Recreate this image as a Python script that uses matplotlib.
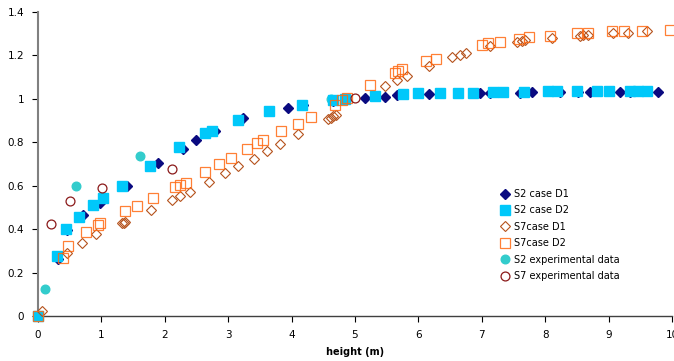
import numpy as np
import matplotlib
matplotlib.use("Agg")
import matplotlib.pyplot as plt
from matplotlib.ticker import FuncFormatter, MultipleLocator

# S2 case D1 (filled navy diamonds)
s2_d1_x = [0, 0.32, 0.45, 0.71, 0.98, 1.40, 1.90, 2.29, 2.50, 2.79, 3.24, 3.95, 4.18,
           4.65, 5.16, 5.47, 5.66, 6.16, 6.97, 7.13, 7.60, 7.79, 8.23, 8.52, 8.71,
           9.18, 9.34, 9.78]
s2_d1_y = [0, 0.26, 0.397, 0.463, 0.52, 0.60, 0.704, 0.77, 0.812, 0.85, 0.912, 0.958,
           0.969, 0.987, 1.004, 1.007, 1.016, 1.022, 1.025, 1.027, 1.028, 1.03, 1.03,
           1.03, 1.03, 1.03, 1.03, 1.03]

# S2 case D2 (filled cyan squares)
s2_d2_x = [0, 0.30, 0.44, 0.65, 0.87, 1.03, 1.32, 1.76, 2.22, 2.63, 2.74, 3.15, 3.64,
           4.16, 4.66, 4.84, 5.32, 5.76, 6.0, 6.34, 6.63, 6.86, 7.18, 7.34, 7.66,
           8.05, 8.18, 8.50, 8.81, 9.01, 9.34, 9.47, 9.60]
s2_d2_y = [0, 0.277, 0.40, 0.455, 0.512, 0.543, 0.60, 0.689, 0.778, 0.843, 0.853, 0.90,
           0.942, 0.969, 0.996, 1.0, 1.012, 1.02, 1.024, 1.027, 1.027, 1.028, 1.03,
           1.03, 1.032, 1.035, 1.035, 1.035, 1.035, 1.035, 1.035, 1.035, 1.035]

# S7 case D1 (open brown diamonds)
s7_d1_x = [0.06, 0.45, 0.69, 0.91, 1.32, 1.35, 1.37, 1.79, 2.12, 2.24, 2.39, 2.69,
           2.95, 3.16, 3.40, 3.61, 3.82, 4.10, 4.58, 4.62, 4.66, 4.70, 5.47, 5.66,
           5.82, 6.16, 6.53, 6.66, 6.75, 7.13, 7.55, 7.63, 7.68, 8.10, 8.55, 8.60,
           8.68, 9.07, 9.31, 9.60]
s7_d1_y = [0.025, 0.289, 0.335, 0.377, 0.428, 0.43, 0.433, 0.489, 0.535, 0.55, 0.57,
           0.617, 0.658, 0.689, 0.723, 0.758, 0.793, 0.838, 0.905, 0.912, 0.918, 0.925,
           1.058, 1.084, 1.104, 1.15, 1.19, 1.20, 1.21, 1.24, 1.26, 1.265, 1.27, 1.278,
           1.29, 1.293, 1.295, 1.30, 1.304, 1.309]

# S7 case D2 (open orange squares)
s7_d2_x = [0, 0.39, 0.47, 0.75, 0.94, 0.98, 1.37, 1.56, 1.81, 2.16, 2.24, 2.33, 2.64,
           2.85, 3.04, 3.30, 3.45, 3.55, 3.84, 4.10, 4.30, 4.68, 4.79, 4.87, 5.24,
           5.63, 5.68, 5.74, 6.12, 6.28, 7.00, 7.09, 7.28, 7.58, 7.75, 8.08, 8.50,
           8.68, 9.05, 9.24, 9.52, 9.97]
s7_d2_y = [0, 0.266, 0.323, 0.386, 0.42, 0.427, 0.481, 0.507, 0.543, 0.594, 0.604,
           0.612, 0.663, 0.70, 0.727, 0.77, 0.797, 0.812, 0.85, 0.884, 0.916, 0.973,
           0.996, 1.004, 1.062, 1.12, 1.127, 1.135, 1.173, 1.184, 1.245, 1.255, 1.262,
           1.276, 1.284, 1.29, 1.30, 1.30, 1.31, 1.31, 1.31, 1.316]

# experimental data
s2_exp_x = [0, 0.11, 0.60, 1.61, 4.62]
s2_exp_y = [0, 0.125, 0.60, 0.735, 1.0]
s7_exp_x = [0.205, 0.51, 1.01, 2.11, 5.0]
s7_exp_y = [0.424, 0.527, 0.589, 0.678, 1.004]

x_ticks = list(range(0, 11))
y_ticks = [0, 0.2, 0.4, 0.6, 0.8, 1.0, 1.2, 1.4]


fig = plt.figure(figsize=(6.74, 3.61), dpi=100)
ax = fig.add_axes([38 / 674, 45 / 361, 634 / 674, 304.3 / 361])

ax.plot(s2_d1_x, s2_d1_y, linestyle="none", marker="D", ms=5.2,
        color="#0a0a80", mec="#0a0a80", label="S2 case D1", clip_on=False, zorder=3)
ax.plot(s2_d2_x, s2_d2_y, linestyle="none", marker="s", ms=7.6,
        color="#00c8fa", mec="#00c8fa", label="S2 case D2", clip_on=False, zorder=4)
ax.plot(s7_d1_x, s7_d1_y, linestyle="none", marker="D", ms=5.0, mfc="none",
        mec="#b5521c", mew=0.8, label="S7case D1", clip_on=False, zorder=5)
ax.plot(s7_d2_x, s7_d2_y, linestyle="none", marker="s", ms=7.6, mfc="none",
        mec="#ff6a13", mew=0.9, alpha=0.85, label="S7case D2", clip_on=False, zorder=6)
ax.plot(s2_exp_x, s2_exp_y, linestyle="none", marker="o", ms=6.2,
        color="#33cccc", mec="#33cccc", label="S2 experimental data", clip_on=False, zorder=2)
ax.plot(s7_exp_x, s7_exp_y, linestyle="none", marker="o", ms=6.4, mfc="none",
        mec="#8b1a1a", mew=0.9, label="S7 experimental data", clip_on=False, zorder=7)

ax.set_xlim(0, 10)
ax.set_ylim(0, 1.4)
ax.set_xticks(x_ticks)
ax.set_yticks(y_ticks)
ax.yaxis.set_major_formatter(FuncFormatter(lambda v, p: f"{v:g}"))

for side in ["top", "right"]:
    ax.spines[side].set_visible(False)
ax.spines["left"].set_color("#808080")
ax.spines["left"].set_linewidth(1.5)
ax.spines["bottom"].set_color("#404040")
ax.spines["bottom"].set_linewidth(1.0)
ax.tick_params(axis="both", direction="out", length=4, width=0.8, color="black",
               labelsize=7.5, pad=6)

ax.set_xlabel("height (m)", fontsize=7, fontweight="bold", labelpad=5)

ax.legend(loc="upper left", bbox_to_anchor=(500 / 674, 1 - 189 / 361),
          bbox_transform=fig.transFigure, frameon=False, fontsize=7,
          handlelength=1.0, handletextpad=0.4, labelspacing=0.66,
          borderaxespad=0, borderpad=0)

fig.savefig("out.png", dpi=100)
